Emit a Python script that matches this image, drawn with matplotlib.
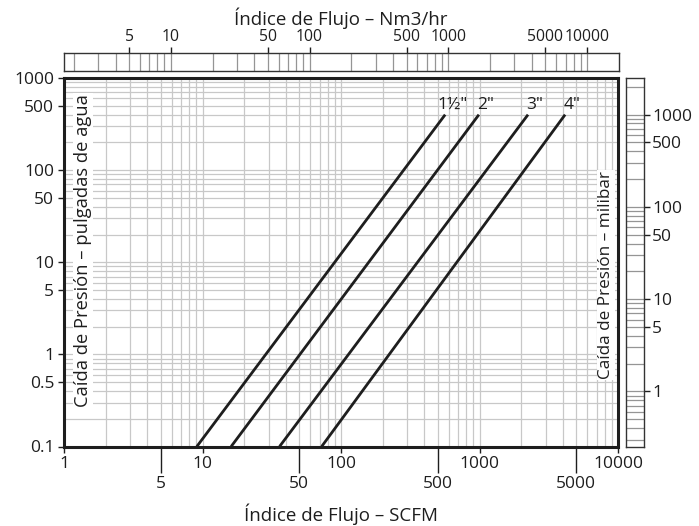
import matplotlib
matplotlib.use('Agg')
import matplotlib.pyplot as plt
import numpy as np
from matplotlib.ticker import FixedLocator, FixedFormatter, NullLocator

W, H = 699, 526
plt.rcParams['font.family'] = ['Open Sans', 'DejaVu Sans']

# ---- data ----
sizes = ['1½"', '2"', '3"', '4"']
flow_low = [9.1, 16.1, 36.0, 72.5]        # SCFM at 0.1 in. w.c.
flow_high = [565, 990, 2240, 4150]        # SCFM at top of line
dp_low = [0.1, 0.1, 0.1, 0.1]             # in. w.c.
dp_high = [400, 400, 400, 400]            # in. w.c.

xticks_major = [1, 10, 100, 1000, 10000]
xticklabels_major = ['1', '10', '100', '1000', '10000']
xticks_mid = [5, 50, 500, 5000]
xticklabels_mid = ['5', '50', '500', '5000']
yticks = [0.1, 0.5, 1, 5, 10, 50, 100, 500, 1000]
yticklabels = ['0.1', '0.5', '1', '5', '10', '50', '100', '500', '1000']
top_ticks = [5, 10, 50, 100, 500, 1000, 5000, 10000]
top_ticklabels = ['5', '10', '50', '100', '500', '1000', '5000', '10000']
right_ticks = [1, 5, 10, 50, 100, 500, 1000]
right_ticklabels = ['1', '5', '10', '50', '100', '500', '1000']
SCFM_TO_NM3H = 1.70
INH2O_TO_MBAR = 2.49

XLIM = (1, 10000)
YLIM = (0.1, 1000)

FS = 12.5
FS_TOP = 11.3
DARK = '#1e1e1e'
GRID = '#c8c8c8'
STRIP = '#959595'


def rect(x0, y0, x1, y1):
    return [x0 / W, 1 - y1 / H, (x1 - x0) / W, (y1 - y0) / H]


def log_subs(lo, hi):
    vals = []
    d = 10 ** np.floor(np.log10(lo))
    while d <= hi:
        for m in range(1, 10):
            v = m * d
            if lo < v < hi:
                vals.append(v)
        d *= 10
    return vals


fig = plt.figure(figsize=(W / 100, H / 100), dpi=100)

# ---- main axes ----
ax = fig.add_axes(rect(64, 78, 618, 446.5))
ax.set_xscale('log')
ax.set_yscale('log')
ax.set_xlim(*XLIM)
ax.set_ylim(*YLIM)

for v in log_subs(*XLIM):
    ax.axvline(v, color=GRID, lw=0.9, zorder=0)
for v in log_subs(*YLIM):
    ax.axhline(v, color=GRID, lw=0.9, zorder=0)

for lab, fl, fh, dl, dh in zip(sizes, flow_low, flow_high, dp_low, dp_high):
    ax.plot([fl, fh], [dl, dh], color=DARK, lw=2.0, solid_capstyle='butt', zorder=3)
    ax.annotate(lab, (fh, dh), xytext=(5, 7), textcoords='offset points',
                ha='center', va='center', fontsize=FS, color=DARK)

for s in ax.spines.values():
    s.set_linewidth(2.2)
    s.set_color(DARK)
    s.set_zorder(5)

ax.xaxis.set_major_locator(FixedLocator(xticks_major))
ax.xaxis.set_major_formatter(FixedFormatter(xticklabels_major))
ax.xaxis.set_minor_locator(FixedLocator(xticks_mid))
ax.xaxis.set_minor_formatter(FixedFormatter(xticklabels_mid))
ax.yaxis.set_major_locator(FixedLocator(yticks))
ax.yaxis.set_major_formatter(FixedFormatter(yticklabels))
ax.yaxis.set_minor_locator(NullLocator())
ax.tick_params(axis='both', which='major', length=4.5, width=1, color=DARK,
               labelsize=FS, labelcolor=DARK, pad=2.5)
ax.tick_params(axis='x', which='minor', length=19, width=1, color=DARK,
               labelsize=FS, labelcolor=DARK, pad=2.5)

# ---- top strip (Nm3/hr) ----
top = fig.add_axes(rect(64, 53, 619, 71))
top.set_xscale('log')
tlim = (XLIM[0] * SCFM_TO_NM3H, XLIM[1] * SCFM_TO_NM3H)
top.set_xlim(*tlim)
top.set_ylim(0, 1)
for v in log_subs(*tlim):
    top.axvline(v, color=STRIP, lw=0.9)
top.xaxis.tick_top()
top.xaxis.set_major_locator(FixedLocator(top_ticks))
top.xaxis.set_major_formatter(FixedFormatter(top_ticklabels))
top.xaxis.set_minor_locator(NullLocator())
top.yaxis.set_major_locator(NullLocator())
top.tick_params(axis='x', length=4.5, width=1, color=DARK, labelsize=FS_TOP,
                labelcolor=DARK, pad=1.0)
for s in top.spines.values():
    s.set_linewidth(1.0)
    s.set_color('#333333')

# ---- right strip (millibar) ----
rgt = fig.add_axes(rect(626, 78, 644, 447))
rgt.set_yscale('log')
rlim = (YLIM[0] * INH2O_TO_MBAR, YLIM[1] * INH2O_TO_MBAR)
rgt.set_ylim(*rlim)
rgt.set_xlim(0, 1)
for v in log_subs(*rlim):
    rgt.axhline(v, color=STRIP, lw=0.9)
rgt.yaxis.tick_right()
rgt.yaxis.set_major_locator(FixedLocator(right_ticks))
rgt.yaxis.set_major_formatter(FixedFormatter(right_ticklabels))
rgt.yaxis.set_minor_locator(NullLocator())
rgt.xaxis.set_major_locator(NullLocator())
rgt.tick_params(axis='y', length=4.5, width=1, color=DARK, labelsize=FS,
                labelcolor=DARK, pad=1.5)
for s in rgt.spines.values():
    s.set_linewidth(1.0)
    s.set_color('#333333')

# ---- titles ----
fig.text(341 / W, 1 - 514 / H, 'Índice de Flujo – SCFM', ha='center', va='center',
         fontsize=13.5, color=DARK)
fig.text(341 / W, 1 - 18 / H, 'Índice de Flujo – Nm3/hr', ha='center', va='center',
         fontsize=13.5, color=DARK)
fig.text(83 / W, 1 - 251 / H, 'Caída de Presión – pulgadas de agua', rotation=90,
         ha='center', va='center', fontsize=13.2, color=DARK, zorder=10,
         bbox=dict(facecolor='white', edgecolor='none', pad=1.0))
fig.text(606 / W, 1 - 275 / H, 'Caída de Presión – milibar', rotation=90,
         ha='center', va='center', fontsize=12.3, color=DARK, zorder=10,
         bbox=dict(facecolor='white', edgecolor='none', pad=1.0))

fig.savefig('out.png', dpi=100)
